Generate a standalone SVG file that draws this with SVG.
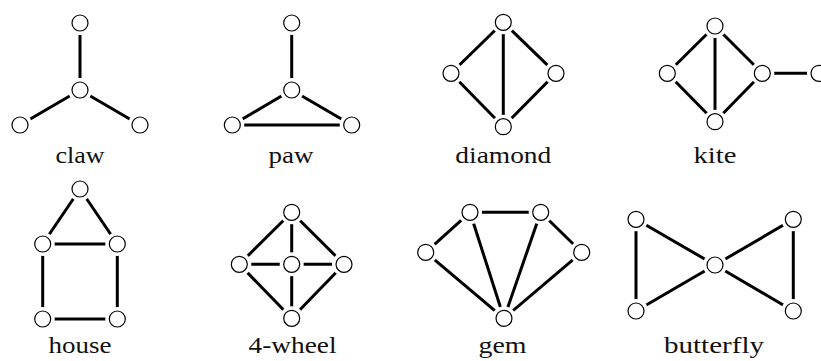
<svg xmlns="http://www.w3.org/2000/svg" width="821" height="361" viewBox="0 0 821 361">
<style>
.e{stroke:#000;stroke-width:3;fill:none}
.h{fill:#fff;stroke:none}
.n{fill:#fff;stroke:#000;stroke-width:1.2}
text{font-size:23px;fill:#111;text-anchor:middle}
</style>
<defs>
<g id="node"><circle class="h" r="12"/><circle class="n" r="8"/></g>
</defs>
<rect width="821" height="361" fill="#fff"/>
<g id="connectors">
<line class="e" x1="80" y1="23" x2="80" y2="90"/>
<line class="e" x1="80" y1="90" x2="20" y2="125"/>
<line class="e" x1="80" y1="90" x2="140" y2="125"/>
<line class="e" x1="291.7" y1="23" x2="291.7" y2="90"/>
<line class="e" x1="291.7" y1="90" x2="232.3" y2="125"/>
<line class="e" x1="291.7" y1="90" x2="351.7" y2="125"/>
<line class="e" x1="232.3" y1="125" x2="351.7" y2="125"/>
<line class="e" x1="503.3" y1="22.3" x2="451" y2="73.3"/>
<line class="e" x1="503.3" y1="22.3" x2="556" y2="73.3"/>
<line class="e" x1="451" y1="73.3" x2="503.3" y2="126.7"/>
<line class="e" x1="556" y1="73.3" x2="503.3" y2="126.7"/>
<line class="e" x1="503.3" y1="22.3" x2="503.3" y2="126.7"/>
<line class="e" x1="715" y1="26" x2="667.3" y2="73.3"/>
<line class="e" x1="715" y1="26" x2="762.3" y2="73.3"/>
<line class="e" x1="667.3" y1="73.3" x2="715" y2="121.7"/>
<line class="e" x1="762.3" y1="73.3" x2="715" y2="121.7"/>
<line class="e" x1="715" y1="26" x2="715" y2="121.7"/>
<line class="e" x1="762.3" y1="73.3" x2="819" y2="73.3"/>
<line class="e" x1="80" y1="189" x2="42.7" y2="244"/>
<line class="e" x1="80" y1="189" x2="117.3" y2="244"/>
<line class="e" x1="42.7" y1="244" x2="117.3" y2="244"/>
<line class="e" x1="42.7" y1="244" x2="42.7" y2="319"/>
<line class="e" x1="117.3" y1="244" x2="117.3" y2="319"/>
<line class="e" x1="42.7" y1="319" x2="117.3" y2="319"/>
<line class="e" x1="291.7" y1="212.3" x2="239.3" y2="264.3"/>
<line class="e" x1="291.7" y1="212.3" x2="344" y2="264.3"/>
<line class="e" x1="239.3" y1="264.3" x2="291.7" y2="318.3"/>
<line class="e" x1="344" y1="264.3" x2="291.7" y2="318.3"/>
<line class="e" x1="291.7" y1="212.3" x2="291.7" y2="318.3"/>
<line class="e" x1="239.3" y1="264.3" x2="344" y2="264.3"/>
<line class="e" x1="470" y1="212.3" x2="540.7" y2="212.3"/>
<line class="e" x1="470" y1="212.3" x2="425.7" y2="252.3"/>
<line class="e" x1="540.7" y1="212.3" x2="581.7" y2="252.3"/>
<line class="e" x1="425.7" y1="252.3" x2="504" y2="318.3"/>
<line class="e" x1="470" y1="212.3" x2="504" y2="318.3"/>
<line class="e" x1="540.7" y1="212.3" x2="504" y2="318.3"/>
<line class="e" x1="581.7" y1="252.3" x2="504" y2="318.3"/>
<line class="e" x1="636" y1="219.3" x2="636" y2="311"/>
<line class="e" x1="636" y1="219.3" x2="715" y2="265"/>
<line class="e" x1="636" y1="311" x2="715" y2="265"/>
<line class="e" x1="793.3" y1="219.3" x2="715" y2="265"/>
<line class="e" x1="793.3" y1="311" x2="715" y2="265"/>
<line class="e" x1="793.3" y1="219.3" x2="793.3" y2="311"/>
</g>
<g font-family="Liberation Serif, serif">
<g id="claw">
<use href="#node" x="80" y="23"/><use href="#node" x="80" y="90"/><use href="#node" x="20" y="125"/><use href="#node" x="140" y="125"/>
<text x="80" y="163" textLength="49" lengthAdjust="spacingAndGlyphs">claw</text>
</g>
<g id="paw">
<use href="#node" x="291.7" y="23"/><use href="#node" x="291.7" y="90"/><use href="#node" x="232.3" y="125"/><use href="#node" x="351.7" y="125"/>
<text x="291" y="163" textLength="45" lengthAdjust="spacingAndGlyphs">paw</text>
</g>
<g id="diamond">
<use href="#node" x="503.3" y="22.3"/><use href="#node" x="451" y="73.3"/><use href="#node" x="556" y="73.3"/><use href="#node" x="503.3" y="126.7"/>
<text x="503.3" y="163" textLength="96" lengthAdjust="spacingAndGlyphs">diamond</text>
</g>
<g id="kite">
<use href="#node" x="715" y="26"/><use href="#node" x="667.3" y="73.3"/><use href="#node" x="762.3" y="73.3"/><use href="#node" x="715" y="121.7"/><use href="#node" x="819" y="73.3"/>
<text x="715" y="163" textLength="43" lengthAdjust="spacingAndGlyphs">kite</text>
</g>
<g id="house">
<use href="#node" x="80" y="189"/><use href="#node" x="42.7" y="244"/><use href="#node" x="117.3" y="244"/><use href="#node" x="42.7" y="319"/><use href="#node" x="117.3" y="319"/>
<text x="80" y="352.5" textLength="63" lengthAdjust="spacingAndGlyphs">house</text>
</g>
<g id="wheel4">
<use href="#node" x="291.7" y="212.3"/><use href="#node" x="239.3" y="264.3"/><use href="#node" x="291.7" y="264.3"/><use href="#node" x="344" y="264.3"/><use href="#node" x="291.7" y="318.3"/>
<text x="292.5" y="352.5" textLength="88" lengthAdjust="spacingAndGlyphs">4-wheel</text>
</g>
<g id="gem">
<use href="#node" x="470" y="212.3"/><use href="#node" x="540.7" y="212.3"/><use href="#node" x="425.7" y="252.3"/><use href="#node" x="581.7" y="252.3"/><use href="#node" x="504" y="318.3"/>
<text x="502.5" y="352.5" textLength="48" lengthAdjust="spacingAndGlyphs">gem</text>
</g>
<g id="butterfly">
<use href="#node" x="636" y="219.3"/><use href="#node" x="636" y="311"/><use href="#node" x="715" y="265"/><use href="#node" x="793.3" y="219.3"/><use href="#node" x="793.3" y="311"/>
<text x="714" y="352.5" textLength="100" lengthAdjust="spacingAndGlyphs">butterfly</text>
</g>
</g>
</svg>
